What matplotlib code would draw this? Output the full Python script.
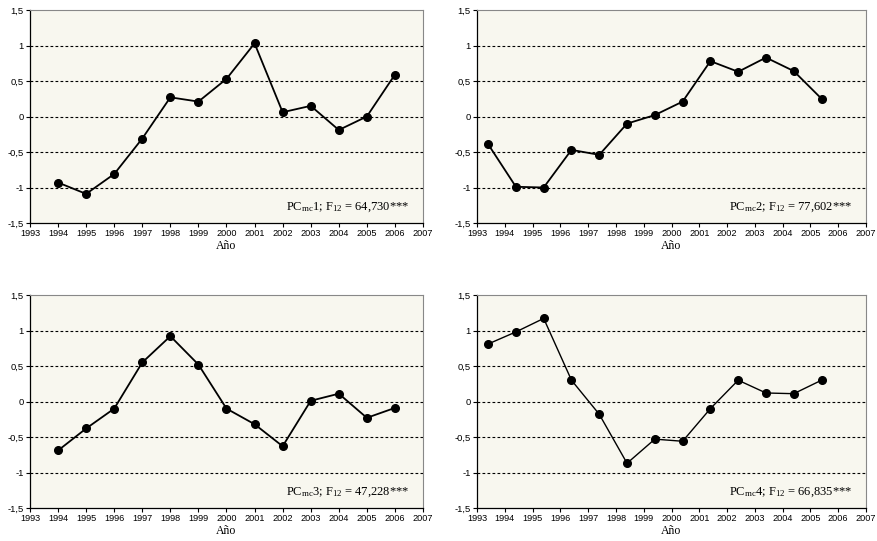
import matplotlib
matplotlib.use("Agg")
import matplotlib.pyplot as plt

# data
years = [1994, 1995, 1996, 1997, 1998, 1999, 2000, 2001, 2002, 2003, 2004, 2005, 2006]
years_shift = [1993.4, 1994.4, 1995.4, 1996.4, 1997.4, 1998.4, 1999.4,
               2000.4, 2001.4, 2002.4, 2003.4, 2004.4, 2005.4]

pc1 = [-0.93, -1.09, -0.81, -0.31, 0.27, 0.21, 0.53, 1.03, 0.06, 0.15, -0.19, 0.0, 0.59]
pc2 = [-0.39, -0.99, -1.0, -0.47, -0.54, -0.10, 0.02, 0.21, 0.78, 0.63, 0.83, 0.64, 0.25]
pc3 = [-0.69, -0.38, -0.10, 0.55, 0.92, 0.52, -0.10, -0.32, -0.63, 0.01, 0.11, -0.23, -0.09]
pc4 = [0.81, 0.98, 1.17, 0.30, -0.18, -0.87, -0.53, -0.56, -0.10, 0.30, 0.12, 0.11, 0.30]

labels = [r"PC$_{\mathrm{mc}}$1; F$_{12}$ = 64,730***",
          r"PC$_{\mathrm{mc}}$2; F$_{12}$ = 77,602***",
          r"PC$_{\mathrm{mc}}$3; F$_{12}$ = 47,228***",
          r"PC$_{\mathrm{mc}}$4; F$_{12}$ = 66,835***"]

xticks = list(range(1993, 2008))
yticks = [-1.5, -1, -0.5, 0, 0.5, 1, 1.5]
ytick_labels = ["-1,5", "-1", "-0,5", "0", "0,5", "1", "1,5"]

plt.rcParams["font.family"] = "Liberation Sans"
plt.rcParams["mathtext.fontset"] = "custom"
plt.rcParams["mathtext.rm"] = "Liberation Serif"
plt.rcParams["mathtext.it"] = "Liberation Serif"

W, H = 877, 541
fig = plt.figure(figsize=(W / 100, H / 100), dpi=100)

# axes boxes in pixels: left, top, right, bottom
boxes = [(30, 10, 423, 223), (477, 10, 866, 223),
         (30, 295, 423, 508), (477, 295, 866, 508)]
series = [(years, pc1, 1.3), (years_shift, pc2, 1.3),
          (years, pc3, 1.3), (years_shift, pc4, 1.0)]

for (l, t, r, b), (xs, ys, lw), lab in zip(boxes, series, labels):
    ax = fig.add_axes([l / W, 1 - b / H, (r - l) / W, (b - t) / H])
    ax.set_facecolor("#f8f7ef")
    ax.set_xlim(1993, 2007)
    ax.set_ylim(-1.5, 1.5)
    for g in [-1, -0.5, 0, 0.5, 1]:
        ax.axhline(g, color="black", lw=0.8, ls=(0, (2.5, 2)), zorder=1)
    ax.plot(xs, ys, color="black", lw=lw, marker="o", ms=5.5, zorder=3)
    ax.set_xticks(xticks)
    ax.set_xticklabels([str(x) for x in xticks], fontsize=6.6)
    ax.set_yticks(yticks)
    ax.set_yticklabels(ytick_labels, fontsize=6.8)
    ax.tick_params(direction="out", length=3, width=0.8, pad=1.5)
    ax.spines["top"].set_color("#888888")
    ax.spines["right"].set_color("#888888")
    for s in ["left", "bottom"]:
        ax.spines[s].set_color("black")
        ax.spines[s].set_linewidth(0.9)
    ax.set_xlabel("Año", fontsize=8.5, family="Liberation Serif", labelpad=1)
    ax.text(0.965, 0.075, lab, transform=ax.transAxes, ha="right", va="center",
            fontsize=9, family="Liberation Serif")

fig.savefig("out.png", dpi=100)
